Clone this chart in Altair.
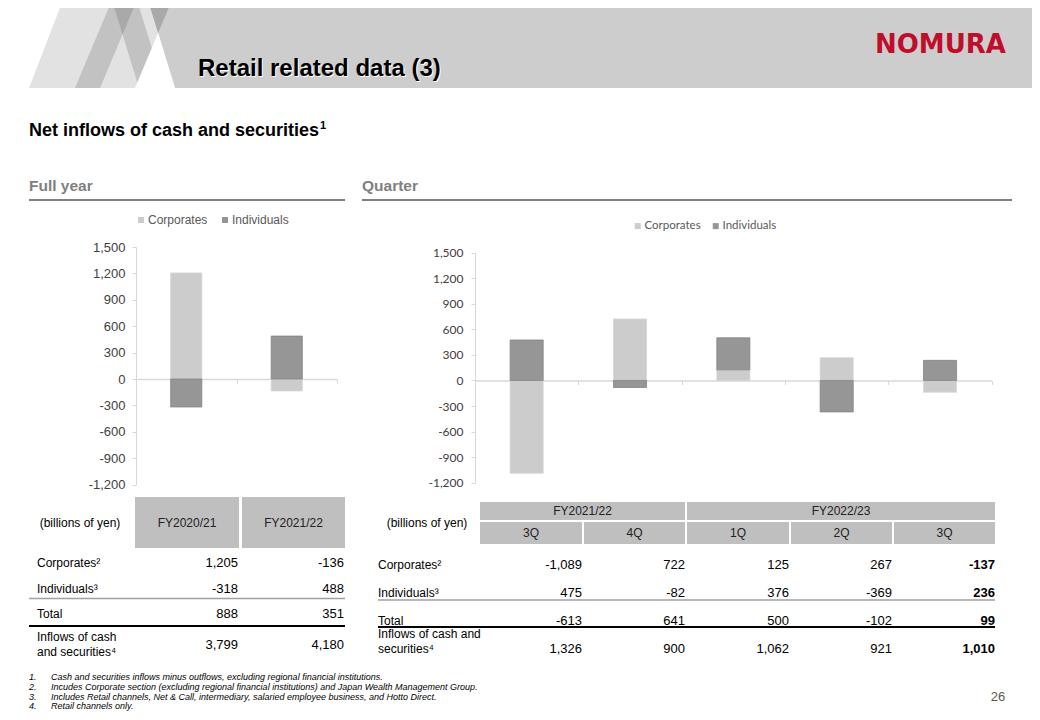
import altair as alt
import pandas as pd

W, H = 1024, 704
OX, OY = 8, 8  # page margin: image coords -> canvas coords

# ---------------- data ----------------
fy_periods = ["FY2020/21", "FY2021/22"]
fy_corporates = [1205, -136]
fy_individuals = [-318, 488]
fy_total = [888, 351]
fy_inflows = [3799, 4180]

q_fiscal_years = ["FY2021/22", "FY2022/23"]
q_quarters = ["3Q", "4Q", "1Q", "2Q", "3Q"]
q_quarter_fy = ["FY2021/22", "FY2021/22", "FY2022/23", "FY2022/23", "FY2022/23"]
q_corporates = [-1089, 722, 125, 267, -137]
q_individuals = [475, -82, 376, -369, 236]
q_total = [-613, 641, 500, -102, 99]
q_inflows = [1326, 900, 1062, 921, 1010]

series_names = ["Corporates", "Individuals"]
series_colors = ["#cccccc", "#969696"]
series_strokes = ["#d6d6d6", "#848484"]
y_ticks = [-1200, -900, -600, -300, 0, 300, 600, 900, 1200, 1500]

row_labels = ["Corporates\u00b2", "Individuals\u00b3", "Total"]
footnotes = [
    "Cash and securities inflows minus outflows, excluding regional financial institutions.",
    "Incudes Corporate section (excluding regional financial institutions) and Japan Wealth Management Group.",
    "Includes Retail channels, Net & Call, intermediary, salaried employee business, and Hotto Direct.",
    "Retail channels only.",
]


def fmt(v):
    return f"{v:,}"


# ---------------- helpers ----------------
def text_layer(items, size, color="#000000", weight="normal", style="normal",
               align="left", baseline="middle", font="Liberation Sans"):
    df = pd.DataFrame([{"x": x - OX, "y": y - OY, "t": t} for x, y, t in items])
    return alt.Chart(df).mark_text(
        fontSize=size, color=color, fontWeight=weight, fontStyle=style,
        align=align, baseline=baseline, font=font,
    ).encode(
        x=alt.X("x:Q", scale=None, axis=None),
        y=alt.Y("y:Q", scale=None, axis=None),
        text=alt.Text("t:N"),
    )


def rect_layer(items, color):
    df = pd.DataFrame([{"x": a - OX, "x2": b - OX, "y": c - OY, "y2": d - OY}
                       for a, b, c, d in items])
    return alt.Chart(df).mark_rect(color=color, strokeWidth=0).encode(
        x=alt.X("x:Q", scale=None, axis=None), x2="x2:Q",
        y=alt.Y("y:Q", scale=None, axis=None), y2="y2:Q",
    )


def rule_layer(items, color, width):
    df = pd.DataFrame([{"x": a - OX, "x2": b - OX, "y": c - OY} for a, b, c in items])
    return alt.Chart(df).mark_rule(color=color, strokeWidth=width).encode(
        x=alt.X("x:Q", scale=None, axis=None), x2="x2:Q",
        y=alt.Y("y:Q", scale=None, axis=None),
    )


def poly_layer(rows, color):
    df = pd.DataFrame([{"y": y - OY, "xl": a - OX, "xr": b - OX} for y, a, b in rows])
    return alt.Chart(df).mark_area(orient="horizontal", color=color, strokeWidth=0).encode(
        y=alt.Y("y:Q", scale=None, axis=None),
        x=alt.X("xl:Q", scale=None, axis=None), x2="xr:Q",
    )


LABEL_EXPR = "datum.value < 0 ? '-' + format(-datum.value, ',') : format(datum.value, ',')"


def bar_layer(cats, corp, ind, x0, x1, y_bot, y_top, band, font, fsize, lab_pad,
              leg_x, leg_y, col_pad, leg_size):
    rows = []
    for k, (name, vals) in enumerate(zip(series_names, [corp, ind])):
        for c, v in zip(cats, vals):
            rows.append({"cat": c, "series": name, "value": v, "ord": k})
    df = pd.DataFrame(rows)
    y_zero = y_bot - (y_bot - y_top) * 1200 / 2700
    xs = alt.Scale(domain=cats, range=[x0 - OX, x1 - OX], paddingInner=0, paddingOuter=0)
    ys = alt.Scale(domain=[-1200, 1500], range=[y_bot - OY, y_top - OY], nice=False, zero=False)
    return alt.Chart(df).mark_bar(width=alt.RelativeBandSize(band), strokeWidth=0.8).encode(
        x=alt.X("cat:N", scale=xs, sort=cats,
                axis=alt.Axis(orient="bottom", offset=-(H - (y_zero - OY)), labels=False,
                              title=None, grid=False, ticks=True, tickBand="extent",
                              tickSize=4, tickColor="#d9d9d9", domainColor="#d9d9d9",
                              domainWidth=1.5)),
        y=alt.Y("value:Q", scale=ys, stack="zero",
                axis=alt.Axis(orient="left", offset=-(x0 - OX), values=y_ticks,
                              labelExpr=LABEL_EXPR, title=None, grid=False,
                              tickSize=4, tickColor="#d9d9d9", domainColor="#d9d9d9",
                              labelFont=font, labelFontSize=fsize, labelColor="#404040",
                              labelPadding=lab_pad)),
        color=alt.Color("series:N", scale=alt.Scale(domain=series_names, range=series_colors),
                        legend=alt.Legend(orient="none", legendX=leg_x - OX, legendY=leg_y - OY,
                                          direction="horizontal", title=None,
                                          symbolType="square", symbolSize=36,
                                          symbolStrokeWidth=0, labelFont=font,
                                          labelFontSize=leg_size, labelColor="#595959",
                                          columnPadding=col_pad, labelOffset=1, padding=0)),
        stroke=alt.Stroke("series:N", scale=alt.Scale(domain=series_names, range=series_strokes),
                          legend=None),
        order=alt.Order("ord:Q"),
    )


layers = []

# ---------------- header band & motif ----------------
layers.append(poly_layer([(0, 63, 148), (88, 29, 175)], "#e2e2e2"))
layers.append(poly_layer([(0, 148, 1040), (88, 175, 1040)], "#cdcdcd"))
layers.append(poly_layer([(0, 112, 137), (88, 75, 100)], "#c2c2c2"))
layers.append(poly_layer([(0, 112, 137), (88, 139, 164)], "#c2c2c2"))
layers.append(poly_layer([(0, 112, 137), (34.4, 122.6, 122.6)], "#a9a9a9"))
layers.append(poly_layer([(0, 148, 172), (33, 158.1, 158.1)], "#a9a9a9"))
layers.append(poly_layer([(33, 158.1, 158.1), (88, 135, 175)], "#ffffff"))

layers.append(text_layer([(199, 77, "Retail related data (3)")], 24, color="#ffffff",
                         weight="bold", baseline="alphabetic"))
layers.append(text_layer([(198, 76, "Retail related data (3)")], 24, color="#000000",
                         weight="bold", baseline="alphabetic"))
layers.append(text_layer([(875, 53, "NOMURA")], 26, color="#c00d2b", weight="bold",
                         baseline="alphabetic", font="DejaVu Sans"))

# ---------------- headings ----------------
layers.append(text_layer([(29, 136, "Net inflows of cash and securities")], 18,
                         weight="bold", baseline="alphabetic"))
layers.append(text_layer([(320, 129, "1")], 11, weight="bold", baseline="alphabetic"))
layers.append(text_layer([(29, 191, "Full year"), (362, 191, "Quarter")], 15.5,
                         color="#7f7f7f", weight="bold", baseline="alphabetic"))
layers.append(rule_layer([(29, 345, 200), (362, 1012, 200)], "#808080", 2))

# ---------------- charts ----------------
q_cats = [f"{fy} {q}" for fy, q in zip(q_quarter_fy, q_quarters)]
layers.append(bar_layer(fy_periods, fy_corporates, fy_individuals,
                        136, 337, 484.6, 247, 0.31, "Liberation Sans", 13, 7,
                        135, 214, 11, 12))
layers.append(bar_layer(q_cats, q_corporates, q_individuals,
                        475, 991.7, 482.7, 252.7, 0.32, "Lato", 12, 8,
                        632, 220, 9, 11.5))

# ---------------- left table ----------------
lt_x0 = [135, 242]
lt_x1 = [239, 345]
lt_rows_y = [563, 589, 614]
layers.append(rect_layer([(a, b, 497, 548) for a, b in zip(lt_x0, lt_x1)], "#bfbfbf"))
layers.append(text_layer([((a + b) / 2, 523, p) for a, b, p in zip(lt_x0, lt_x1, fy_periods)],
                         12, color="#222222", align="center"))
layers.append(text_layer([(80, 523, "(billions of yen)")], 12, align="center"))
layers.append(text_layer([(37, y, lab) for y, lab in zip(lt_rows_y, row_labels)]
                         + [(37, 637, "Inflows of cash"), (37, 652, "and securities\u2074")], 12))
lt_vals = []
for y, arr in zip(lt_rows_y + [645], [fy_corporates, fy_individuals, fy_total, fy_inflows]):
    for b, v in zip(lt_x1, arr):
        lt_vals.append((b - 1, y, fmt(v)))
layers.append(text_layer(lt_vals, 13, align="right"))
layers.append(rule_layer([(29, 345, 598.5)], "#a0a0a0", 1.5))
layers.append(rule_layer([(29, 345, 626)], "#000000", 2))

# ---------------- right table ----------------
rt_x0 = [480, 584, 687, 791, 894]
rt_x1 = [582, 685, 789, 892, 995]
rt_rows_y = [565, 593, 621]
fy_spans = []
for fy in q_fiscal_years:
    idx = [i for i, f in enumerate(q_quarter_fy) if f == fy]
    fy_spans.append((rt_x0[idx[0]], rt_x1[idx[-1]], fy))
layers.append(rect_layer([(a, b, 502, 520) for a, b, _ in fy_spans]
                         + [(a, b, 522, 544) for a, b in zip(rt_x0, rt_x1)], "#bfbfbf"))
layers.append(text_layer([((a + b) / 2, 511, f) for a, b, f in fy_spans]
                         + [((a + b) / 2, 533, q) for a, b, q in zip(rt_x0, rt_x1, q_quarters)],
                         12, color="#222222", align="center"))
layers.append(text_layer([(427, 523, "(billions of yen)")], 12, align="center"))
layers.append(text_layer([(378, y, lab) for y, lab in zip(rt_rows_y, row_labels)]
                         + [(378, 634, "Inflows of cash and"), (378, 649, "securities\u2074")], 12))
rt_vals, rt_bold = [], []
for y, arr in zip(rt_rows_y + [649], [q_corporates, q_individuals, q_total, q_inflows]):
    for i, (b, v) in enumerate(zip(rt_x1, arr)):
        (rt_bold if i == len(arr) - 1 else rt_vals).append((b, y, fmt(v)))
layers.append(text_layer(rt_vals, 13, align="right"))
layers.append(text_layer(rt_bold, 13, align="right", weight="bold"))
layers.append(rule_layer([(378, 995, 600)], "#a0a0a0", 1.5))
layers.append(rule_layer([(378, 995, 627)], "#000000", 2))

# ---------------- footnotes & page number ----------------
fn_y = [676.5, 686.5, 696.5, 706]
layers.append(text_layer([(29, y, f"{i + 1}.") for i, y in enumerate(fn_y)], 9, style="italic"))
layers.append(text_layer([(51, y, t) for y, t in zip(fn_y, footnotes)], 9, style="italic"))
layers.append(text_layer([(998, 697, "26")], 13, color="#595959", align="center"))

chart = alt.layer(*layers).resolve_scale(
    x="independent", y="independent", color="independent", stroke="independent"
).properties(
    width=W, height=H, autosize="none", padding=0, background="#ffffff"
).configure_view(strokeWidth=0)

chart.save("out.html", embed_options={"renderer": "svg", "actions": False})
